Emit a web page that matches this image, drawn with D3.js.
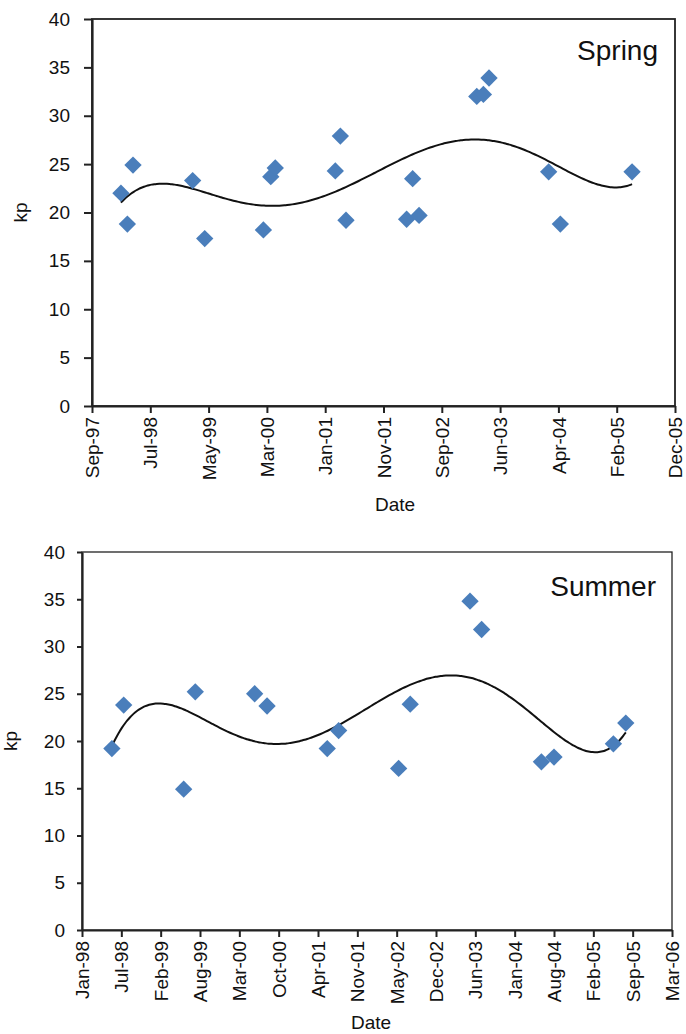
<!DOCTYPE html>
<html>
<head>
<meta charset="utf-8">
<script src="https://cdn.jsdelivr.net/npm/d3@7"></script>
<style>
  body { margin: 0; background: #fff; }
  svg text { font-family: "Liberation Sans", Arial, sans-serif; fill: #111; }
</style>
</head>
<body>
<div id="chart"></div>
<script>
// spring samples
var springDates = ["1998-02-23", "1998-03-28", "1998-04-26", "1999-02-27", "1999-04-30",
    "2000-02-26", "2000-04-04", "2000-04-27", "2001-03-02", "2001-03-28", "2001-04-26",
    "2002-03-04", "2002-04-04", "2002-05-07", "2003-02-28", "2003-04-03", "2003-05-02",
    "2004-03-04", "2004-05-03", "2005-05-07"];
var springKp = [22.0, 18.8, 24.9, 23.3, 17.3, 18.2, 23.7, 24.6, 24.3, 27.9, 19.2,
    19.3, 23.5, 19.7, 32.0, 32.2, 33.9, 24.2, 18.8, 24.2];
var springTicks = ["1997-09-27", "1998-07-24", "1999-05-20", "2000-03-15", "2001-01-09",
    "2001-11-05", "2002-09-01", "2003-06-28", "2004-04-23", "2005-02-17", "2005-12-14"];

// summer samples
var summerDates = ["1998-06-06", "1998-08-05", "1999-06-06", "1999-08-04", "2000-06-01",
    "2000-08-03", "2001-06-05", "2001-08-02", "2002-06-03", "2002-08-01", "2003-06-01",
    "2003-07-30", "2004-05-29", "2004-08-01", "2005-05-30", "2005-08-01"];
var summerKp = [19.2, 23.8, 14.9, 25.2, 25.0, 23.7, 19.2, 21.1, 17.1, 23.9, 34.8,
    31.8, 17.8, 18.3, 19.7, 21.9];
var summerTicks = ["1998-01-05", "1998-07-24", "1999-02-09", "1999-08-28", "2000-03-15",
    "2000-10-01", "2001-04-19", "2001-11-05", "2002-05-24", "2002-12-10", "2003-06-28",
    "2004-01-14", "2004-08-01", "2005-02-17", "2005-09-05", "2006-03-24"];

var kpTicks = [0, 5, 10, 15, 20, 25, 30, 35, 40];

var parse = d3.utcParse("%Y-%m-%d");
var fmt = d3.utcFormat("%b-%y");

var svg = d3.select("#chart").append("svg")
    .attr("width", 686)
    .attr("height", 1034);

// least squares polynomial (like the excel trendline)
function polyfit(xs, ys, deg) {
    var n = deg + 1, A = [], b = [];
    for (var i = 0; i < n; i++) { A.push(new Array(n).fill(0)); b.push(0); }
    xs.forEach(function (x, k) {
        for (var i = 0; i < n; i++) {
            b[i] += ys[k] * Math.pow(x, i);
            for (var j = 0; j < n; j++) A[i][j] += Math.pow(x, i + j);
        }
    });
    for (var c = 0; c < n; c++) {
        var p = c;
        for (var r = c + 1; r < n; r++) if (Math.abs(A[r][c]) > Math.abs(A[p][c])) p = r;
        var t = A[c]; A[c] = A[p]; A[p] = t;
        t = b[c]; b[c] = b[p]; b[p] = t;
        for (var r = c + 1; r < n; r++) {
            var f = A[r][c] / A[c][c];
            for (var j = c; j < n; j++) A[r][j] -= f * A[c][j];
            b[r] -= f * b[c];
        }
    }
    var coef = new Array(n).fill(0);
    for (var i = n - 1; i >= 0; i--) {
        var s = b[i];
        for (var j = i + 1; j < n; j++) s -= A[i][j] * coef[j];
        coef[i] = s / A[i][i];
    }
    return function (x) {
        return coef.reduce(function (acc, c, i) { return acc + c * Math.pow(x, i); }, 0);
    };
}

function drawPanel(opts) {
    var dates = opts.dates.map(parse);
    var ticks = opts.ticks.map(parse);

    var x = d3.scaleUtc()
        .domain([ticks[0], ticks[ticks.length - 1]])
        .range([opts.left, opts.right]);
    var y = d3.scaleLinear()
        .domain([0, 40])
        .range([opts.bottom, opts.top]);

    var g = svg.append("g");

    // plot frame
    g.append("rect")
        .attr("x", opts.left).attr("y", opts.top)
        .attr("width", opts.right - opts.left)
        .attr("height", opts.bottom - opts.top)
        .attr("fill", "none")
        .attr("stroke", "#222")
        .attr("stroke-width", opts.frame);

    var xAxis = g.append("g")
        .attr("transform", "translate(0," + opts.bottom + ")")
        .call(d3.axisBottom(x).tickValues(ticks).tickFormat(fmt).tickSize(7).tickSizeOuter(0));
    xAxis.selectAll("text")
        .attr("transform", "rotate(-90)")
        .attr("x", -11).attr("y", 0).attr("dy", "0.35em")
        .style("text-anchor", "end")
        .style("font-size", "19px");

    var yAxis = g.append("g")
        .attr("transform", "translate(" + opts.left + ",0)")
        .call(d3.axisLeft(y).tickValues(kpTicks).tickSize(opts.ytick).tickSizeOuter(0));
    yAxis.selectAll("text")
        .attr("x", -(opts.ytick + opts.ypad))
        .style("font-size", "19px");

    [xAxis, yAxis].forEach(function (a) {
        a.select(".domain").attr("stroke", "#222").attr("stroke-width", 2.2);
        a.selectAll(".tick line").attr("stroke", "#222").attr("stroke-width", 2);
    });

    // trend line
    var x0 = +dates[0], x1 = +dates[dates.length - 1];
    var norm = function (d) { return (2 * (+d) - x0 - x1) / (x1 - x0); };
    var fit = polyfit(dates.map(norm), opts.kp, opts.deg);
    var curve = d3.range(0, 201).map(function (i) {
        var d = new Date(x0 + (x1 - x0) * i / 200);
        return [d, fit(norm(d))];
    });
    g.append("path")
        .datum(curve)
        .attr("fill", "none")
        .attr("stroke", "#111")
        .attr("stroke-width", 2)
        .attr("d", d3.line()
            .x(function (d) { return x(d[0]); })
            .y(function (d) { return y(d[1]); })
            .curve(d3.curveBasis));

    // points
    g.selectAll(".pt")
        .data(dates.map(function (d, i) { return [d, opts.kp[i]]; }))
        .enter().append("path")
        .attr("class", "pt")
        .attr("d", d3.symbol().type(d3.symbolSquare).size(150))
        .attr("fill", "#4a7ebb")
        .attr("transform", function (d) {
            return "translate(" + x(d[0]) + "," + y(d[1]) + ") rotate(45)";
        });

    // labels
    g.append("text")
        .attr("transform", "translate(" + opts.kpX + "," + ((opts.top + opts.bottom) / 2) + ") rotate(-90)")
        .attr("text-anchor", "middle")
        .style("font-size", "19px")
        .text("kp");
    g.append("text")
        .attr("x", opts.dateX).attr("y", opts.dateY)
        .attr("text-anchor", "middle")
        .style("font-size", "19px")
        .text("Date");
    g.append("text")
        .attr("x", opts.titleX).attr("y", opts.titleY)
        .attr("text-anchor", "end")
        .style("font-size", "28px")
        .text(opts.title);
}

drawPanel({
    dates: springDates, kp: springKp, ticks: springTicks, deg: 5, frame: 1.8,
    left: 92, right: 675, top: 19, bottom: 406, ytick: 8, ypad: 14,
    kpX: 27, dateX: 395, dateY: 511, title: "Spring", titleX: 658, titleY: 60
});

drawPanel({
    dates: summerDates, kp: summerKp, ticks: summerTicks, deg: 5, frame: 1.3,
    left: 82, right: 672, top: 552, bottom: 930, ytick: 5, ypad: 12,
    kpX: 17, dateX: 371, dateY: 1029, title: "Summer", titleX: 656, titleY: 596
});
</script>
</body>
</html>
